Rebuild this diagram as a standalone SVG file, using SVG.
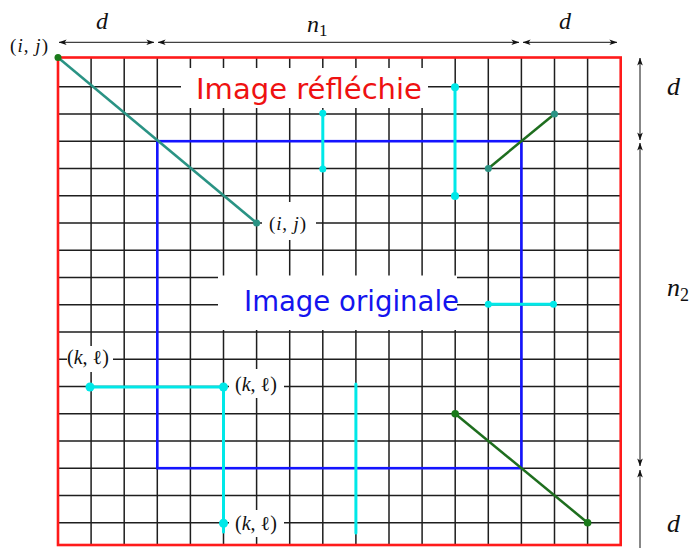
<svg xmlns="http://www.w3.org/2000/svg" width="697" height="548" viewBox="0 0 697 548">
<style>
.grid{stroke:#1e1e1e;stroke-width:1.5;fill:none}
.box{fill:#fff;stroke:none}
.dim{stroke:#111;stroke-width:1;fill:none}
.math{font-family:"Liberation Serif","DejaVu Serif",serif;font-style:italic;fill:#111}
.mathu{font-family:"Liberation Serif","DejaVu Serif",serif;font-style:normal;fill:#111}
.cyan{stroke:#00e8e8;stroke-width:3;fill:none;stroke-linecap:round}
.cdot{fill:#00e8e8}
.title{font-family:"DejaVu Sans","Noto Sans",sans-serif;font-size:28px}
</style>
<defs>
<marker id="ah" viewBox="0 0 10 10" refX="9.5" refY="5" markerWidth="8" markerHeight="8" markerUnits="userSpaceOnUse" orient="auto-start-reverse">
<path d="M0,1.5 L10,5 L0,8.5 L2.5,5 Z" fill="#111"/>
</marker>
</defs>
<rect width="697" height="548" fill="#fff"/>
<g id="grid">
<path class="grid" d="M91.1,57.5V545M124.2,57.5V545M157.3,57.5V545M190.4,57.5V545M223.5,57.5V545M256.6,57.5V545M289.7,57.5V545M322.8,57.5V545M355.9,57.5V545M389,57.5V545M422.1,57.5V545M455.2,57.5V545M488.3,57.5V545M521.4,57.5V545M554.5,57.5V545M587.6,57.5V545"/>
<path class="grid" d="M58,86.7H620.7M58,113.95H620.7M58,141.2H620.7M58,168.45H620.7M58,195.7H620.7M58,222.95H620.7M58,250.2H620.7M58,277.45H620.7M58,304.7H620.7M58,331.95H620.7M58,359.2H620.7M58,386.45H620.7M58,413.7H620.7M58,440.95H620.7M58,468.2H620.7M58,495.45H620.7M58,522.7H620.7"/>
</g>
<g id="original-frame">
<rect x="157.3" y="141.2" width="364.1" height="327" fill="none" stroke="#1414ff" stroke-width="2.6"/>
</g>
<g id="reflected-frame">
<rect x="58" y="57.5" width="562.7" height="487.5" fill="none" stroke="#ff1a1a" stroke-width="2.6"/>
</g>
<g id="label-boxes">
<rect class="box" x="181" y="68" width="247" height="40"/>
<rect class="box" x="218" y="275.5" width="239" height="54.5"/>
<rect class="box" x="262" y="202" width="54" height="38"/>
<rect class="box" x="67" y="346" width="46" height="26"/>
<rect class="box" x="229" y="369" width="55" height="29"/>
<rect class="box" x="229" y="510" width="55" height="27"/>
</g>
<g id="connectors">
<line x1="58" y1="57.5" x2="256.6" y2="222.95" stroke="#2a9384" stroke-width="2.5"/>
<circle cx="58" cy="57.5" r="3.5" fill="#1a7a1a"/>
<circle cx="256.6" cy="222.95" r="3.5" fill="#2a9384"/>
<line x1="488.3" y1="168.45" x2="554.5" y2="113.95" stroke="#1e6e1e" stroke-width="2.5"/>
<circle cx="488.3" cy="168.45" r="3.5" fill="#2a9384"/>
<circle cx="554.5" cy="113.95" r="3.5" fill="#2a9384"/>
<line x1="455.2" y1="413.7" x2="587.6" y2="522.7" stroke="#1e6e1e" stroke-width="2.5"/>
<circle cx="455.2" cy="413.7" r="3.8" fill="#1a7a1a"/>
<circle cx="587.6" cy="522.7" r="3.8" fill="#1a7a1a"/>
<line class="cyan" x1="322.8" y1="113.3" x2="322.8" y2="169"/>
<circle class="cdot" cx="322.8" cy="113.3" r="3.5"/>
<circle class="cdot" cx="322.8" cy="169" r="3.5"/>
<line class="cyan" x1="455" y1="87.3" x2="455" y2="196"/>
<circle class="cdot" cx="455" cy="87.3" r="4"/>
<circle class="cdot" cx="455" cy="196" r="4"/>
<line class="cyan" x1="488.3" y1="304.2" x2="553.5" y2="304.2"/>
<circle class="cdot" cx="488.3" cy="304.2" r="3.5"/>
<circle class="cdot" cx="553.5" cy="304.2" r="3.5"/>
<path class="cyan" d="M90,387H223.5V532"/>
<circle class="cdot" cx="90" cy="387" r="4.5"/>
<circle class="cdot" cx="223.5" cy="387" r="4.5"/>
<circle class="cdot" cx="223.5" cy="523.3" r="4.5"/>
<line class="cyan" x1="355.9" y1="384" x2="355.9" y2="533"/>
</g>
<g id="dimensions">
<line class="dim" x1="59" y1="42.3" x2="154" y2="42.3" marker-start="url(#ah)" marker-end="url(#ah)"/>
<line class="dim" x1="158" y1="42.3" x2="519" y2="42.3" marker-start="url(#ah)" marker-end="url(#ah)"/>
<line class="dim" x1="523" y1="42.3" x2="617" y2="42.3" marker-start="url(#ah)" marker-end="url(#ah)"/>
<line class="dim" x1="640" y1="58" x2="640" y2="140" marker-start="url(#ah)" marker-end="url(#ah)"/>
<line class="dim" x1="640" y1="143" x2="640" y2="466" marker-start="url(#ah)" marker-end="url(#ah)"/>
<line class="dim" x1="640" y1="470" x2="640" y2="570" marker-start="url(#ah)" marker-end="url(#ah)"/>
</g>
<g id="labels">
<text class="title" x="196" y="99" fill="#ee1111" textLength="226" lengthAdjust="spacingAndGlyphs">Image réfléchie</text>
<text class="title" x="244" y="311" fill="#1414ee" textLength="215" lengthAdjust="spacingAndGlyphs">Image originale</text>
<text class="math" x="96" y="29" font-size="24">d</text>
<text class="math" x="307" y="32" font-size="24">n<tspan class="mathu" font-size="17" dy="4">1</tspan></text>
<text class="math" x="559" y="29" font-size="24">d</text>
<text class="math" x="667" y="95" font-size="26">d</text>
<text class="math" x="667" y="296" font-size="26">n<tspan class="mathu" font-size="18" dy="5">2</tspan></text>
<text class="math" x="667" y="532" font-size="26">d</text>
<text class="mathu" x="10" y="52" font-size="19" textLength="38">(<tspan class="math">i</tspan>, <tspan class="math">j</tspan>)</text>
<text class="mathu" x="269" y="230" font-size="19" textLength="37">(<tspan class="math">i</tspan>, <tspan class="math">j</tspan>)</text>
<text class="mathu" x="67" y="364" font-size="20">(<tspan class="math">k</tspan>, ℓ)</text>
<text class="mathu" x="235" y="391" font-size="20">(<tspan class="math">k</tspan>, ℓ)</text>
<text class="mathu" x="235" y="530" font-size="20">(<tspan class="math">k</tspan>, ℓ)</text>
</g>
</svg>
